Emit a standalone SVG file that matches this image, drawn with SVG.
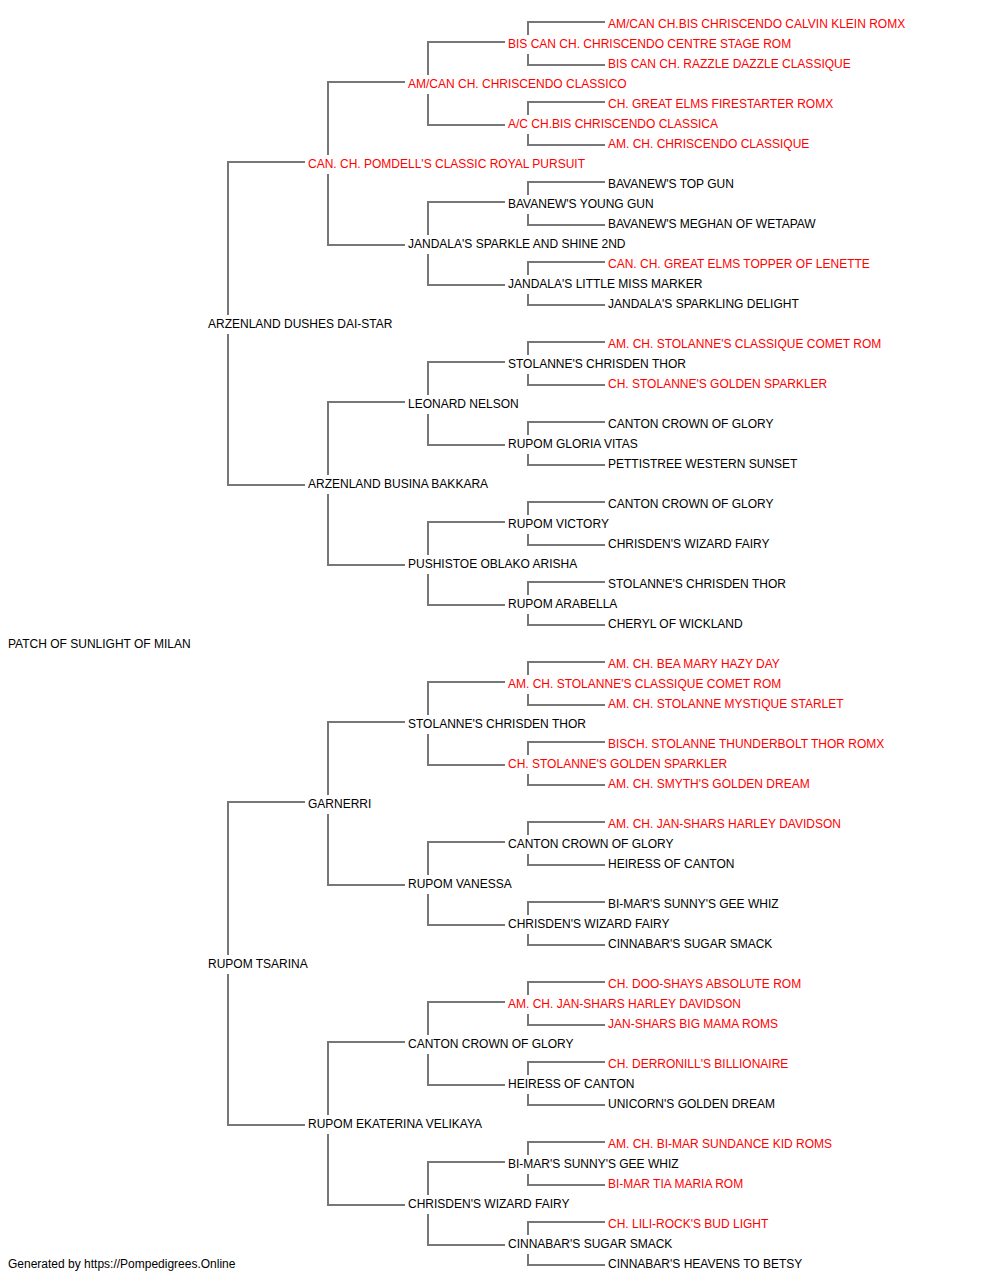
<svg xmlns="http://www.w3.org/2000/svg" width="1000" height="1280" viewBox="0 0 1000 1280">
<style>
text{font-family:"Liberation Sans",Arial,sans-serif;font-size:12px;fill:#000}
.r{fill:#ff0000}
.c path{fill:none;stroke:#777;stroke-width:2}
</style>
<rect width="1000" height="1280" fill="#fff"/>
<g class="c" id="connectors">
<path d="M228 315V162H305M228 334V485H305"/>
<path d="M228 955V802H305M228 974V1125H305"/>
<path d="M328 155V82H405M328 174V245H405"/>
<path d="M328 475V402H405M328 494V565H405"/>
<path d="M328 795V722H405M328 814V885H405"/>
<path d="M328 1115V1042H405M328 1134V1205H405"/>
<path d="M428 75V42H505M428 94V125H505"/>
<path d="M428 235V202H505M428 254V285H505"/>
<path d="M428 395V362H505M428 414V445H505"/>
<path d="M428 555V522H505M428 574V605H505"/>
<path d="M428 715V682H505M428 734V765H505"/>
<path d="M428 875V842H505M428 894V925H505"/>
<path d="M428 1035V1002H505M428 1054V1085H505"/>
<path d="M428 1195V1162H505M428 1214V1245H505"/>
<path d="M528 35V22H605M528 54V65H605"/>
<path d="M528 115V102H605M528 134V145H605"/>
<path d="M528 195V182H605M528 214V225H605"/>
<path d="M528 275V262H605M528 294V305H605"/>
<path d="M528 355V342H605M528 374V385H605"/>
<path d="M528 435V422H605M528 454V465H605"/>
<path d="M528 515V502H605M528 534V545H605"/>
<path d="M528 595V582H605M528 614V625H605"/>
<path d="M528 675V662H605M528 694V705H605"/>
<path d="M528 755V742H605M528 774V785H605"/>
<path d="M528 835V822H605M528 854V865H605"/>
<path d="M528 915V902H605M528 934V945H605"/>
<path d="M528 995V982H605M528 1014V1025H605"/>
<path d="M528 1075V1062H605M528 1094V1105H605"/>
<path d="M528 1155V1142H605M528 1174V1185H605"/>
<path d="M528 1235V1222H605M528 1254V1265H605"/>
</g>
<g id="n0"><text x="8" y="648">PATCH OF SUNLIGHT OF MILAN</text></g>
<g id="n1"><text x="208" y="328">ARZENLAND DUSHES DAI-STAR</text></g>
<g id="n2"><text x="208" y="968">RUPOM TSARINA</text></g>
<g id="n3"><text class="r" x="308" y="168">CAN. CH. POMDELL'S CLASSIC ROYAL PURSUIT</text></g>
<g id="n4"><text x="308" y="488">ARZENLAND BUSINA BAKKARA</text></g>
<g id="n5"><text x="308" y="808">GARNERRI</text></g>
<g id="n6"><text x="308" y="1128">RUPOM EKATERINA VELIKAYA</text></g>
<g id="n7"><text class="r" x="408" y="88">AM/CAN CH. CHRISCENDO CLASSICO</text></g>
<g id="n8"><text x="408" y="248">JANDALA'S SPARKLE AND SHINE 2ND</text></g>
<g id="n9"><text x="408" y="408">LEONARD NELSON</text></g>
<g id="n10"><text x="408" y="568">PUSHISTOE OBLAKO ARISHA</text></g>
<g id="n11"><text x="408" y="728">STOLANNE'S CHRISDEN THOR</text></g>
<g id="n12"><text x="408" y="888">RUPOM VANESSA</text></g>
<g id="n13"><text x="408" y="1048">CANTON CROWN OF GLORY</text></g>
<g id="n14"><text x="408" y="1208">CHRISDEN'S WIZARD FAIRY</text></g>
<g id="n15"><text class="r" x="508" y="48">BIS CAN CH. CHRISCENDO CENTRE STAGE ROM</text></g>
<g id="n16"><text class="r" x="508" y="128">A/C CH.BIS CHRISCENDO CLASSICA</text></g>
<g id="n17"><text x="508" y="208">BAVANEW'S YOUNG GUN</text></g>
<g id="n18"><text x="508" y="288">JANDALA'S LITTLE MISS MARKER</text></g>
<g id="n19"><text x="508" y="368">STOLANNE'S CHRISDEN THOR</text></g>
<g id="n20"><text x="508" y="448">RUPOM GLORIA VITAS</text></g>
<g id="n21"><text x="508" y="528">RUPOM VICTORY</text></g>
<g id="n22"><text x="508" y="608">RUPOM ARABELLA</text></g>
<g id="n23"><text class="r" x="508" y="688">AM. CH. STOLANNE'S CLASSIQUE COMET ROM</text></g>
<g id="n24"><text class="r" x="508" y="768">CH. STOLANNE'S GOLDEN SPARKLER</text></g>
<g id="n25"><text x="508" y="848">CANTON CROWN OF GLORY</text></g>
<g id="n26"><text x="508" y="928">CHRISDEN'S WIZARD FAIRY</text></g>
<g id="n27"><text class="r" x="508" y="1008">AM. CH. JAN-SHARS HARLEY DAVIDSON</text></g>
<g id="n28"><text x="508" y="1088">HEIRESS OF CANTON</text></g>
<g id="n29"><text x="508" y="1168">BI-MAR'S SUNNY'S GEE WHIZ</text></g>
<g id="n30"><text x="508" y="1248">CINNABAR'S SUGAR SMACK</text></g>
<g id="n31"><text class="r" x="608" y="28">AM/CAN CH.BIS CHRISCENDO CALVIN KLEIN ROMX</text></g>
<g id="n32"><text class="r" x="608" y="68">BIS CAN CH. RAZZLE DAZZLE CLASSIQUE</text></g>
<g id="n33"><text class="r" x="608" y="108">CH. GREAT ELMS FIRESTARTER ROMX</text></g>
<g id="n34"><text class="r" x="608" y="148">AM. CH. CHRISCENDO CLASSIQUE</text></g>
<g id="n35"><text x="608" y="188">BAVANEW'S TOP GUN</text></g>
<g id="n36"><text x="608" y="228">BAVANEW'S MEGHAN OF WETAPAW</text></g>
<g id="n37"><text class="r" x="608" y="268">CAN. CH. GREAT ELMS TOPPER OF LENETTE</text></g>
<g id="n38"><text x="608" y="308">JANDALA'S SPARKLING DELIGHT</text></g>
<g id="n39"><text class="r" x="608" y="348">AM. CH. STOLANNE'S CLASSIQUE COMET ROM</text></g>
<g id="n40"><text class="r" x="608" y="388">CH. STOLANNE'S GOLDEN SPARKLER</text></g>
<g id="n41"><text x="608" y="428">CANTON CROWN OF GLORY</text></g>
<g id="n42"><text x="608" y="468">PETTISTREE WESTERN SUNSET</text></g>
<g id="n43"><text x="608" y="508">CANTON CROWN OF GLORY</text></g>
<g id="n44"><text x="608" y="548">CHRISDEN'S WIZARD FAIRY</text></g>
<g id="n45"><text x="608" y="588">STOLANNE'S CHRISDEN THOR</text></g>
<g id="n46"><text x="608" y="628">CHERYL OF WICKLAND</text></g>
<g id="n47"><text class="r" x="608" y="668">AM. CH. BEA MARY HAZY DAY</text></g>
<g id="n48"><text class="r" x="608" y="708">AM. CH. STOLANNE MYSTIQUE STARLET</text></g>
<g id="n49"><text class="r" x="608" y="748">BISCH. STOLANNE THUNDERBOLT THOR ROMX</text></g>
<g id="n50"><text class="r" x="608" y="788">AM. CH. SMYTH'S GOLDEN DREAM</text></g>
<g id="n51"><text class="r" x="608" y="828">AM. CH. JAN-SHARS HARLEY DAVIDSON</text></g>
<g id="n52"><text x="608" y="868">HEIRESS OF CANTON</text></g>
<g id="n53"><text x="608" y="908">BI-MAR'S SUNNY'S GEE WHIZ</text></g>
<g id="n54"><text x="608" y="948">CINNABAR'S SUGAR SMACK</text></g>
<g id="n55"><text class="r" x="608" y="988">CH. DOO-SHAYS ABSOLUTE ROM</text></g>
<g id="n56"><text class="r" x="608" y="1028">JAN-SHARS BIG MAMA ROMS</text></g>
<g id="n57"><text class="r" x="608" y="1068">CH. DERRONILL'S BILLIONAIRE</text></g>
<g id="n58"><text x="608" y="1108">UNICORN'S GOLDEN DREAM</text></g>
<g id="n59"><text class="r" x="608" y="1148">AM. CH. BI-MAR SUNDANCE KID ROMS</text></g>
<g id="n60"><text class="r" x="608" y="1188">BI-MAR TIA MARIA ROM</text></g>
<g id="n61"><text class="r" x="608" y="1228">CH. LILI-ROCK'S BUD LIGHT</text></g>
<g id="n62"><text x="608" y="1268">CINNABAR'S HEAVENS TO BETSY</text></g>
<g id="footer"><text x="8" y="1268">Generated by https://Pompedigrees.Online</text></g>
</svg>
